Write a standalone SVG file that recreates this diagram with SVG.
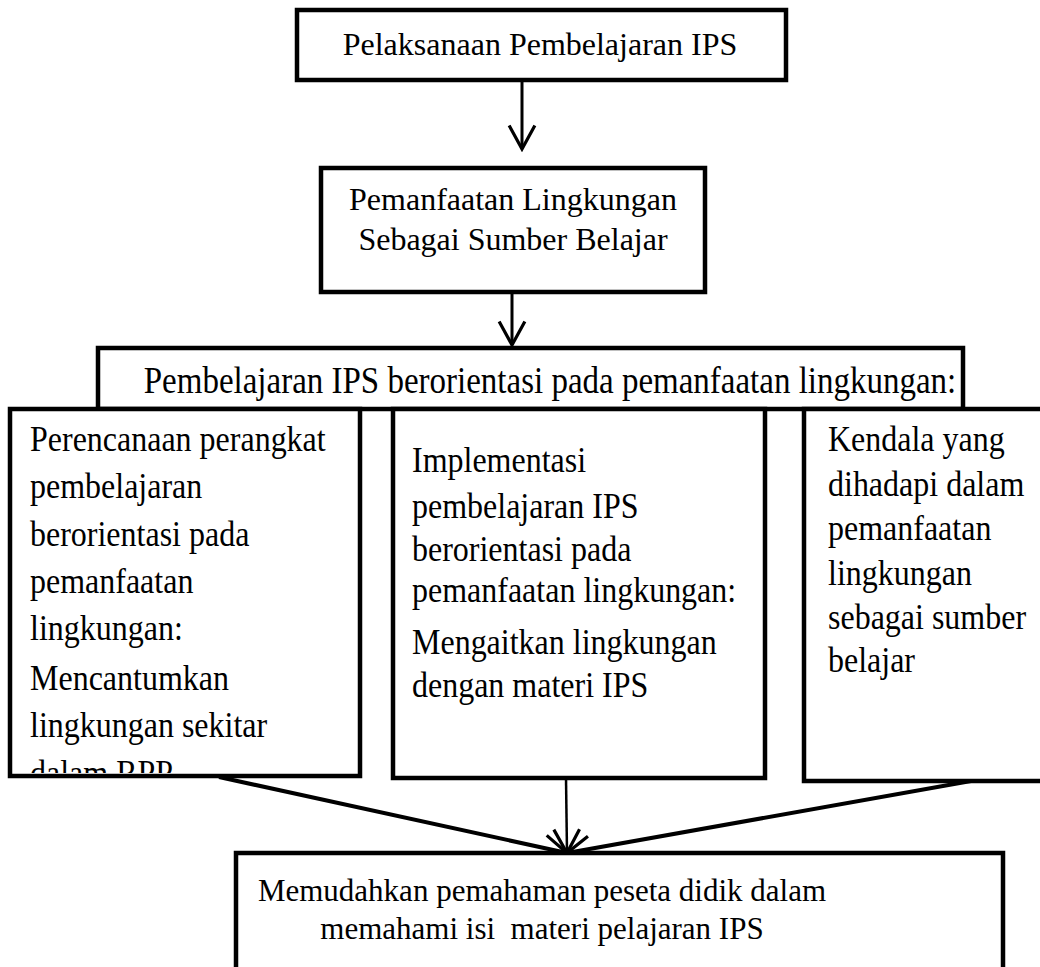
<svg xmlns="http://www.w3.org/2000/svg" width="1040" height="967" viewBox="0 0 1040 967">
<style>
.box{fill:#fff;stroke:#000;stroke-width:4.5}
.t{font-family:"Liberation Serif","Times New Roman",serif;font-size:32px;fill:#000}
.c{text-anchor:middle}
.conn{stroke:#000;fill:none}
</style>
<defs>
<marker id="ah2" markerWidth="30" markerHeight="30" viewBox="-24 -14 26 28" refX="0" refY="0" orient="auto" markerUnits="userSpaceOnUse">
<path d="M-22,-12 L0,0 L-22,12" fill="none" stroke="#000" stroke-width="3"/>
</marker>
<clipPath id="clipL"><rect x="10" y="409" width="350" height="364"/></clipPath>
</defs>

<g id="connectors">
<line class="conn" x1="522" y1="80" x2="522" y2="149" stroke-width="3" marker-end="url(#ah2)"/>
<line class="conn" x1="512" y1="292" x2="512" y2="345" stroke-width="3" marker-end="url(#ah2)"/>
<line class="conn" x1="219" y1="777" x2="567" y2="853" stroke-width="4" marker-end="url(#ah2)"/>
<line class="conn" x1="971" y1="781" x2="567" y2="853" stroke-width="4" marker-end="url(#ah2)"/>
<line class="conn" x1="566" y1="778" x2="567" y2="853" stroke-width="2.5" marker-end="url(#ah2)"/>
</g>

<g id="n1">
<rect class="box" x="297" y="10" width="489" height="70"/>
<text class="t c" x="540" y="55">Pelaksanaan Pembelajaran IPS</text>
</g>

<g id="n2">
<rect class="box" x="321" y="168" width="384" height="124"/>
<text class="t c" x="513" y="210">Pemanfaatan Lingkungan</text>
<text class="t c" x="513" y="250">Sebagai Sumber Belajar</text>
</g>

<g id="n3">
<rect class="box" x="98" y="348" width="865" height="61"/>
<text class="t c" style="font-size:33px" transform="translate(550 393) scale(1 1.15)">Pembelajaran IPS berorientasi pada pemanfaatan lingkungan:</text>
</g>

<g id="n4">
<rect class="box" x="10" y="409" width="350" height="367"/>
<g clip-path="url(#clipL)">
<text class="t" transform="translate(30 451) scale(1 1.15)">Perencanaan perangkat</text>
<text class="t" transform="translate(30 498) scale(1 1.15)">pembelajaran</text>
<text class="t" transform="translate(30 546) scale(1 1.15)">berorientasi pada</text>
<text class="t" transform="translate(30 593) scale(1 1.15)">pemanfaatan</text>
<text class="t" transform="translate(30 640) scale(1 1.15)">lingkungan:</text>
<text class="t" transform="translate(30 690) scale(1 1.15)">Mencantumkan</text>
<text class="t" transform="translate(30 737) scale(1 1.15)">lingkungan sekitar</text>
<text class="t" transform="translate(30 785) scale(1 1.15)">dalam RPP</text>
</g>
</g>

<g id="n5">
<rect class="box" x="393" y="409" width="372" height="369"/>
<text class="t" transform="translate(412 472) scale(1 1.15)">Implementasi</text>
<text class="t" transform="translate(412 518) scale(1 1.15)">pembelajaran IPS</text>
<text class="t" transform="translate(412 561) scale(1 1.15)">berorientasi pada</text>
<text class="t" transform="translate(412 602) scale(1 1.15)">pemanfaatan lingkungan:</text>
<text class="t" transform="translate(412 654) scale(1 1.15)">Mengaitkan lingkungan</text>
<text class="t" transform="translate(412 697) scale(1 1.15)">dengan materi IPS</text>
</g>

<g id="n6">
<rect class="box" x="804" y="409" width="250" height="372"/>
<text class="t" transform="translate(828 451) scale(1 1.15)">Kendala yang</text>
<text class="t" transform="translate(828 496) scale(1 1.15)">dihadapi dalam</text>
<text class="t" transform="translate(828 540) scale(1 1.15)">pemanfaatan</text>
<text class="t" transform="translate(828 585) scale(1 1.15)">lingkungan</text>
<text class="t" transform="translate(828 629) scale(1 1.15)">sebagai sumber</text>
<text class="t" transform="translate(828 672) scale(1 1.15)">belajar</text>
</g>

<g id="n7">
<rect class="box" x="236" y="853" width="767" height="130"/>
<text class="t c" x="542" y="901" style="font-size:31px">Memudahkan pemahaman peseta didik dalam</text>
<text class="t c" x="542" y="939" style="font-size:31px" xml:space="preserve">memahami isi  materi pelajaran IPS</text>
</g>
</svg>
